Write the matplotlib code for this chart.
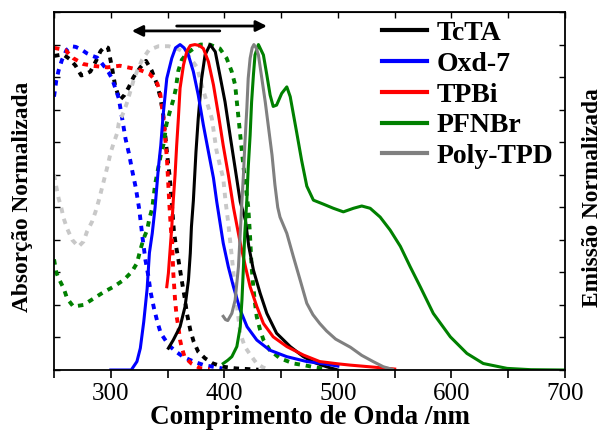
import matplotlib
matplotlib.use("Agg")
import matplotlib.pyplot as plt
from matplotlib.ticker import MultipleLocator

plt.rcParams['font.family'] = ['Liberation Serif', 'DejaVu Serif']

names = ["TcTA", "Oxd-7", "TPBi", "PFNBr", "Poly-TPD"]
colors = ["#000000", "#0000ff", "#ff0000", "#008000", "#808080"]
abs_colors = ["#000000", "#0000ff", "#ff0000", "#008000", "#c8c8c8"]

# ---- Emission (solid) ----
tcta_em_x = [350.7, 355, 361, 365.4, 368.4, 370, 371, 372.7, 375, 377, 380, 383, 387.4, 392, 396,
             400.6, 405, 409.5, 414, 418.6, 421.5, 425.6, 431.5, 437.4, 446, 458, 469.6, 480, 490, 500]
tcta_em_y = [0.067, 0.092, 0.133, 0.195, 0.277, 0.359, 0.44, 0.52, 0.67, 0.773, 0.896, 0.968, 1.0, 0.978, 0.907,
             0.824, 0.722, 0.62, 0.517, 0.46, 0.38, 0.307, 0.236, 0.174, 0.113, 0.072, 0.041, 0.022, 0.01, 0.0]

oxd_em_x = [300, 310, 318, 323, 326, 329, 332, 334, 336.5, 339, 342, 344, 346, 349.3, 353.7, 357, 361,
            364.5, 368.3, 372.7, 377, 381.5, 386, 390.4, 393.3, 399, 403.5, 408, 414, 420, 428.6, 440,
            455, 472.6, 490, 500]
oxd_em_y = [0.0, 0.0, 0.0, 0.026, 0.067, 0.148, 0.25, 0.36, 0.42, 0.5, 0.625, 0.69, 0.78, 0.896, 0.958, 0.99, 1.0,
            0.99, 0.968, 0.917, 0.845, 0.753, 0.67, 0.59, 0.517, 0.39, 0.317, 0.256, 0.184, 0.133, 0.092, 0.061,
            0.041, 0.026, 0.018, 0.012]

tpbi_em_x = [349.3, 350.7, 352, 353.7, 355, 356.6, 358, 359.5, 361, 364, 367, 370, 374, 378, 381.5, 386,
             390.4, 394.8, 399, 403.5, 408, 414, 418.6, 422.7, 428.6, 434.4, 443, 455, 469.6, 484, 500, 511,
             531, 550]
tpbi_em_y = [0.256, 0.297, 0.359, 0.44, 0.52, 0.6, 0.69, 0.773, 0.866, 0.937, 0.98, 0.997, 1.0, 0.997, 0.988, 0.947,
             0.876, 0.784, 0.69, 0.6, 0.5, 0.39, 0.317, 0.256, 0.195, 0.143, 0.102, 0.072, 0.046, 0.026, 0.019, 0.015,
             0.009, 0.003]

pfnbr_em_x = [399, 403, 406.6, 411, 414, 415.5, 416.8, 418, 419.8, 421, 422.7, 424, 425.6, 427, 430, 434.4,
              437.4, 440.3, 443, 446, 450.5, 455, 458, 463.8, 468, 472.6, 478.4, 487, 496, 504.8, 513.7, 521,
              528.4, 537.2, 546, 555, 563.7, 572.5, 584, 599, 613.6, 628, 649, 670, 700]
pfnbr_em_y = [0.02, 0.03, 0.041, 0.072, 0.133, 0.215, 0.317, 0.42, 0.522, 0.62, 0.722, 0.824, 0.907, 0.968, 1.0, 0.968,
              0.907, 0.845, 0.81, 0.814, 0.85, 0.87, 0.84, 0.728, 0.645, 0.565, 0.522, 0.51, 0.497, 0.486, 0.497, 0.504,
              0.497, 0.47, 0.43, 0.38, 0.317, 0.256, 0.174, 0.102, 0.051, 0.02, 0.005, 0.001, 0.0]

ptpd_em_x = [399, 401, 403, 406.6, 409.5, 412.4, 414, 415.5, 416.8, 418, 419.8, 421, 422.7, 424.5, 426, 428,
             430, 433, 436, 439, 442, 444.5, 447, 449, 452, 455, 460.8, 466.7, 472.6, 478, 484, 490, 498, 511,
             521, 531, 540, 548]
ptpd_em_y = [0.165, 0.155, 0.152, 0.174, 0.215, 0.317, 0.42, 0.52, 0.6, 0.69, 0.804, 0.896, 0.958, 0.99, 1.0, 0.99,
             0.968, 0.896, 0.824, 0.742, 0.66, 0.57, 0.5, 0.47, 0.445, 0.42, 0.348, 0.277, 0.205, 0.17, 0.143, 0.12,
             0.095, 0.07, 0.045, 0.026, 0.01, 0.002]

# ---- Absorption (dotted) ----
tcta_abs_x = [250, 258, 264, 269, 274, 278, 282, 287, 291, 295, 297.6, 301, 304, 308, 312, 316, 320, 326, 331,
              336, 340.5, 343.5, 346, 348, 350, 352, 354, 355.5, 357, 359.5, 362.4, 365.4, 367, 370, 373, 377,
              383, 390, 399, 410, 420, 430]
tcta_abs_y = [0.965, 0.97, 0.955, 0.935, 0.905, 0.91, 0.917, 0.95, 0.98, 0.995, 0.99, 0.93, 0.87, 0.83, 0.845, 0.87,
              0.9, 0.93, 0.95, 0.92, 0.88, 0.84, 0.79, 0.72, 0.65, 0.59, 0.5, 0.43, 0.39, 0.34, 0.277, 0.215, 0.174,
              0.123, 0.087, 0.056, 0.036, 0.02, 0.01, 0.005, 0.003, 0.001]

oxd_abs_x = [250, 252, 254, 257, 261, 265, 269, 274, 279, 284, 288, 294, 298, 301, 304, 307, 310, 313, 316,
             319, 322, 325, 328, 330.5, 333, 335, 338, 341, 344, 349, 353, 358, 364, 373, 382, 390, 398]
oxd_abs_y = [0.84, 0.89, 0.92, 0.953, 0.983, 0.995, 0.993, 0.985, 0.973, 0.965, 0.96, 0.934, 0.915, 0.896, 0.866,
             0.835, 0.773, 0.71, 0.665, 0.61, 0.56, 0.495, 0.405, 0.338, 0.29, 0.24, 0.19, 0.148, 0.113, 0.087, 0.07,
             0.055, 0.04, 0.026, 0.015, 0.01, 0.005]

tpbi_abs_x = [250, 260, 267, 276, 286, 297, 308, 319, 327, 334, 338, 341, 343.5, 345, 346.6, 348, 349.5, 351.6,
              353, 354, 355, 356.6, 358, 359.5, 361, 362.4, 365, 371, 379, 387]
tpbi_abs_y = [0.99, 0.983, 0.958, 0.94, 0.934, 0.93, 0.935, 0.927, 0.92, 0.91, 0.895, 0.88, 0.85, 0.81, 0.763, 0.71,
              0.645, 0.507, 0.43, 0.394, 0.3, 0.215, 0.164, 0.133, 0.092, 0.07, 0.04, 0.02, 0.005, 0.002]

pfnbr_abs_x = [250, 252, 254, 258.5, 261.5, 267, 276, 285, 294, 302.5, 311.5, 318.5, 323, 326, 329, 332, 334,
               336.5, 339, 342, 344, 346.5, 349, 352, 355, 357, 359.5, 362.5, 367, 373, 379, 387, 396, 402,
               406.5, 409.5, 411, 412.5, 414, 415.5, 417, 418.5, 420, 421, 422.5, 424, 425.5, 427, 428.5,
               431.5, 434.5, 440, 449, 461, 470, 480, 490]
pfnbr_abs_y = [0.34, 0.3, 0.282, 0.251, 0.22, 0.195, 0.2, 0.22, 0.24, 0.256, 0.277, 0.302, 0.328, 0.369, 0.405, 0.43,
               0.466, 0.497, 0.57, 0.625, 0.66, 0.695, 0.755, 0.794, 0.83, 0.86, 0.92, 0.953, 0.973, 0.988, 1.0, 1.0,
               0.988, 0.958, 0.917, 0.876, 0.824, 0.773, 0.722, 0.67, 0.62, 0.579, 0.528, 0.502, 0.42, 0.317, 0.256,
               0.205, 0.164, 0.123, 0.092, 0.061, 0.036, 0.02, 0.015, 0.008, 0.003]

ptpd_abs_x = [250, 252, 254, 256.5, 258.5, 261.5, 266, 271.5, 276, 279, 283.5, 286.5, 289.5, 292.5, 297, 300,
              302.5, 305.5, 307, 311.5, 314.5, 320, 323, 327.5, 333.5, 342, 351, 360, 368, 376, 380, 384.5,
              389, 393, 396, 399, 401, 403.5, 405, 408, 411, 414, 418, 423, 428.5, 434, 440]
ptpd_abs_y = [0.6, 0.563, 0.528, 0.497, 0.466, 0.435, 0.4, 0.379, 0.395, 0.425, 0.456, 0.486, 0.522, 0.563, 0.625,
              0.67, 0.697, 0.727, 0.758, 0.794, 0.824, 0.89, 0.917, 0.953, 0.983, 0.995, 0.995, 0.985, 0.968, 0.93,
              0.876, 0.824, 0.773, 0.676, 0.63, 0.59, 0.52, 0.45, 0.4, 0.3, 0.2, 0.113, 0.072, 0.046, 0.02, 0.008, 0.0]

em_x = [tcta_em_x, oxd_em_x, tpbi_em_x, pfnbr_em_x, ptpd_em_x]
em_y = [tcta_em_y, oxd_em_y, tpbi_em_y, pfnbr_em_y, ptpd_em_y]
abs_x = [tcta_abs_x, oxd_abs_x, tpbi_abs_x, pfnbr_abs_x, ptpd_abs_x]
abs_y = [tcta_abs_y, oxd_abs_y, tpbi_abs_y, pfnbr_abs_y, ptpd_abs_y]

x_ticks = [300, 400, 500, 600, 700]

fig = plt.figure(figsize=(6.03, 4.30), dpi=100)
ax = fig.add_axes([0.0896, 0.1395, 0.8474, 0.8325])

lw = 2.2
for xs, ys, c in zip(abs_x, abs_y, abs_colors):
    assert len(xs) == len(ys)
    ax.plot(xs, ys, color=c, lw=lw + 0.6, linestyle=(0, (1.4, 1.5)), dash_capstyle='butt')

handles = []
for xs, ys, c, n in zip(em_x, em_y, colors, names):
    assert len(xs) == len(ys)
    h, = ax.plot(xs, ys, color=c, lw=lw, label=n, solid_joinstyle='round')
    handles.append(h)

# arrows: absorption (left) and emission (right)
ax.annotate("", xy=(318.5, 1.042), xytext=(396, 1.042),
            arrowprops=dict(arrowstyle='-|>', color='black', lw=2, mutation_scale=16, shrinkA=0, shrinkB=0))
ax.annotate("", xy=(437.5, 1.057), xytext=(358, 1.057),
            arrowprops=dict(arrowstyle='-|>', color='black', lw=2, mutation_scale=16, shrinkA=0, shrinkB=0))

ax.set_xlim(250, 700)
ax.set_ylim(0, 1.1)
ax.set_xticks(x_ticks)
ax.set_xticklabels([str(v) for v in x_ticks])
ax.xaxis.set_minor_locator(MultipleLocator(50))
ax.yaxis.set_major_locator(MultipleLocator(0.1))
ax.tick_params(axis='x', which='both', direction='out', length=6, width=1.2, labelsize=18, pad=3)
ax.tick_params(axis='y', which='both', direction='in', length=4, width=1, left=True, right=True,
               labelleft=False, labelright=False)

top = ax.secondary_xaxis('top')
top.set_xticks(list(range(250, 701, 50)))
top.tick_params(direction='in', length=4, width=1, labeltop=False)
top.set_xticklabels([])

for s in ax.spines.values():
    s.set_linewidth(1.3)

ax.set_xlabel("Comprimento de Onda /nm", fontsize=19.5, fontweight='bold', labelpad=0.5)
ax.set_ylabel("Absorção Normalizada", fontsize=16.8, fontweight='bold')
ax.yaxis.set_label_coords(-0.041, 0.485)
fig.text(0.982, 0.541, "Emissão Normalizada", rotation=90, fontsize=16.8, fontweight='bold',
         ha='center', va='center')

leg = ax.legend(handles=handles, loc='upper right', bbox_to_anchor=(1.015, 1.03), frameon=False,
                prop=dict(family='Liberation Serif', weight='bold', size=20),
                handlelength=1.6, handletextpad=0.35, labelspacing=0.19, borderaxespad=0.3)
for l in leg.get_lines():
    l.set_linewidth(3)

fig.savefig("out.png", dpi=100)
